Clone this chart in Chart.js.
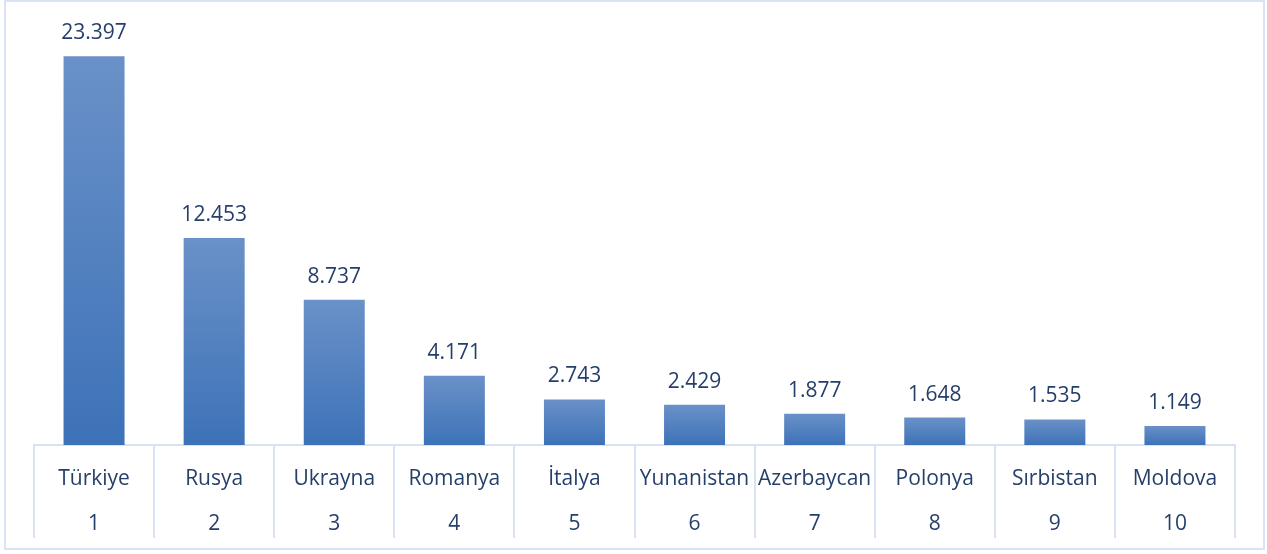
<!DOCTYPE html>
<html>
<head>
<meta charset="utf-8">
<script src="https://cdn.jsdelivr.net/npm/chart.js@4"></script>
<style>
  html, body { margin: 0; padding: 0; background: #fff; }
  .wrap { position: relative; width: 1267px; height: 554px; }
  .frame { position: absolute; left: 4px; top: 0; width: 1257px; height: 546px; border: 2px solid #dae3f3; pointer-events: none; }
  canvas { display: block; }
</style>
</head>
<body>
<div class="wrap">
  <canvas id="chart" width="1267" height="554"></canvas>
  <div class="frame"></div>
</div>
<script>
// ülkeler ve değerler
const countries = ["Türkiye", "Rusya", "Ukrayna", "Romanya", "İtalya", "Yunanistan", "Azerbaycan", "Polonya", "Sırbistan", "Moldova"];
const ranks = ["1", "2", "3", "4", "5", "6", "7", "8", "9", "10"];
const values = [23397, 12453, 8737, 4171, 2743, 2429, 1877, 1648, 1535, 1149];

const textColor = "#253f6b";
const lineColor = "#d9e2f3";
const fontFamily = "'Open Sans', sans-serif";

const barFill = (ctx) => {
  const chart = ctx.chart;
  const area = chart.chartArea;
  if (!area || ctx.parsed == null) return "#5583c2";
  const y = chart.scales.y;
  const top = y.getPixelForValue(ctx.parsed.y);
  const bottom = y.getPixelForValue(0);
  const grad = chart.ctx.createLinearGradient(0, top, 0, bottom);
  grad.addColorStop(0, "#6a91c8");
  grad.addColorStop(1, "#3d72b8");
  return grad;
};

// değer etiketleri (bar üstü)
const valueLabels = {
  id: "valueLabels",
  afterDatasetsDraw(chart) {
    const { ctx } = chart;
    const meta = chart.getDatasetMeta(0);
    ctx.save();
    ctx.font = `21px ${fontFamily}`;
    ctx.fillStyle = textColor;
    ctx.textAlign = "center";
    ctx.textBaseline = "middle";
    meta.data.forEach((bar, i) => {
      ctx.fillText(values[i].toLocaleString("tr-TR"), bar.x, bar.y - 23);
    });
    ctx.restore();
  }
};

// tablo çizgileri (kategori sınırları)
const tableLines = {
  id: "tableLines",
  afterDraw(chart) {
    const { ctx, chartArea } = chart;
    const x = chart.scales.x;
    const step = x.width / countries.length;
    ctx.save();
    ctx.strokeStyle = lineColor;
    ctx.lineWidth = 2;
    ctx.beginPath();
    for (let i = 0; i <= countries.length; i++) {
      const px = Math.round(x.getPixelForTick(Math.min(i, countries.length - 1)) + (i < countries.length ? -step / 2 : step / 2));
      ctx.moveTo(px, chartArea.bottom);
      ctx.lineTo(px, chartArea.bottom + 93);
    }
    ctx.stroke();
    ctx.restore();
  }
};

new Chart(document.getElementById("chart"), {
  type: "bar",
  data: {
    labels: countries.map((name, i) => [name, ranks[i]]),
    datasets: [{ data: values, backgroundColor: barFill, borderWidth: 0, categoryPercentage: 1, barPercentage: 0.508 }]
  },
  options: {
    responsive: false,
    animation: false,
    layout: { padding: { left: 34, right: 32, top: 13, bottom: -4 } },
    plugins: { legend: { display: false }, tooltip: { enabled: false } },
    scales: {
      x: {
        grid: { display: true, drawOnChartArea: false, drawTicks: false, tickLength: 0 },
        border: { display: true, color: lineColor, width: 2 },
        ticks: { color: textColor, font: { family: fontFamily, size: 21, lineHeight: 45 / 21 }, padding: 11.5, maxRotation: 0, autoSkip: false }
      },
      y: { display: false, min: 0, max: 26000 }
    }
  },
  plugins: [valueLabels, tableLines]
});
</script>
</body>
</html>
